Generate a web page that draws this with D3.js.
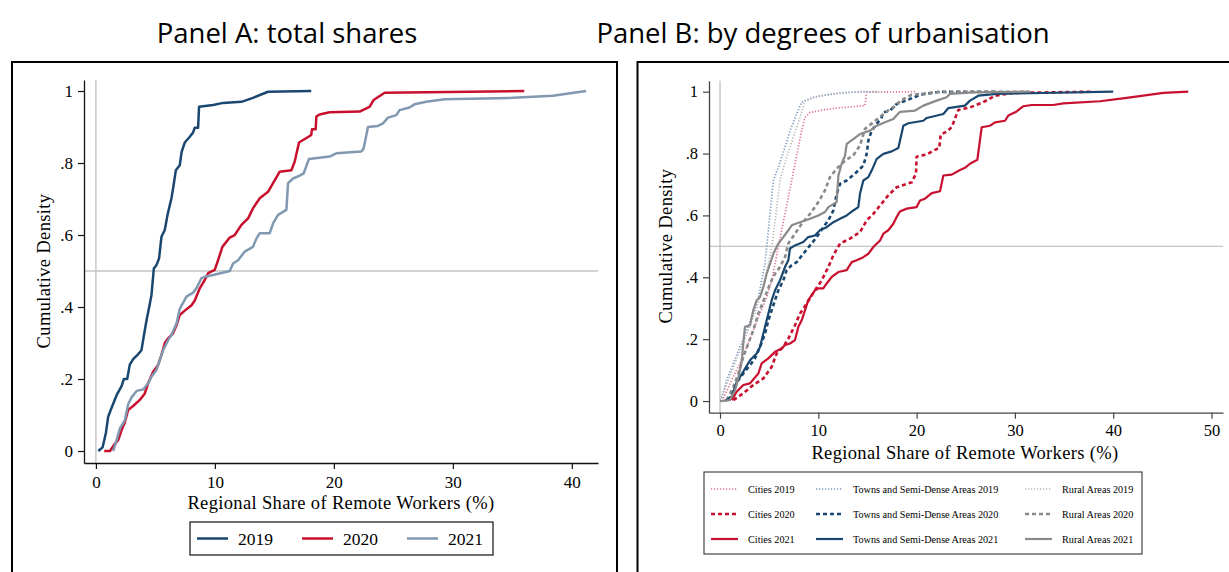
<!DOCTYPE html>
<html>
<head>
<meta charset="utf-8">
<script src="https://cdn.jsdelivr.net/npm/d3@7"></script>
<style>
  html, body { margin: 0; padding: 0; background: #fff; }
  svg { display: block; }
</style>
</head>
<body>
<svg id="chart" width="1229" height="572"></svg>
<script>
// ---------- Data: empirical cumulative distributions [share %, cumulative density] ----------
const panelTitles = ["Panel A: total shares", "Panel B: by degrees of urbanisation"];
const yTickValues = [0, 0.2, 0.4, 0.6, 0.8, 1];
const yTickLabels = ["0", ".2", ".4", ".6", ".8", "1"];
const xTicksA = [0, 10, 20, 30, 40];
const xTicksB = [0, 10, 20, 30, 40, 50];
const xTitle = "Regional Share of Remote Workers (%)";
const yTitle = "Cumulative Density";

// Panel A: total shares by year
const total2019 = [[0.2,0],[0.56,0.01],[0.84,0.05],[1.03,0.095],[1.32,0.12],[1.74,0.155],[2.16,0.18],[2.35,0.2],[2.63,0.2],[2.85,0.24],[3.13,0.255],[3.5,0.267],[3.83,0.28],[4.03,0.32],[4.26,0.364],[4.48,0.4],[4.67,0.433],[4.87,0.507],[5.1,0.517],[5.31,0.535],[5.51,0.595],[5.79,0.614],[6.02,0.656],[6.35,0.702],[6.49,0.73],[6.72,0.78],[7.05,0.794],[7.2,0.83],[7.47,0.857],[7.89,0.873],[8.17,0.885],[8.31,0.898],[8.59,0.898],[8.67,0.956],[9.85,0.961],[10.69,0.967],[12.23,0.97],[13.2,0.981],[14.47,0.998],[18.1,1]];
const total2020 = [[0.7,0],[1.18,0],[1.6,0.02],[1.87,0.03],[2.16,0.058],[2.44,0.08],[2.71,0.114],[3.13,0.125],[3.69,0.142],[4.11,0.16],[4.39,0.188],[4.81,0.22],[5.23,0.239],[5.51,0.267],[5.79,0.3],[6.07,0.313],[6.49,0.327],[6.78,0.35],[7.05,0.378],[7.47,0.39],[8.04,0.405],[8.31,0.418],[8.73,0.452],[9.15,0.475],[9.43,0.494],[9.99,0.503],[10.27,0.53],[10.63,0.567],[11.25,0.593],[11.67,0.6],[12.23,0.628],[12.79,0.646],[13.2,0.674],[13.77,0.702],[14.47,0.72],[14.89,0.744],[15.45,0.776],[16.43,0.78],[16.71,0.804],[17.07,0.857],[17.97,0.875],[18.1,0.878],[18.16,0.894],[18.47,0.894],[18.53,0.929],[18.8,0.935],[19.65,0.941],[22.17,0.943],[23.0,0.956],[23.34,0.975],[24.27,0.995],[36.0,1]];
const total2021 = [[1.45,0],[1.74,0.03],[2.02,0.063],[2.44,0.086],[2.71,0.13],[3.0,0.149],[3.42,0.167],[3.97,0.171],[4.39,0.188],[4.67,0.206],[5.09,0.225],[5.37,0.253],[5.65,0.28],[6.07,0.308],[6.35,0.322],[6.78,0.355],[7.05,0.395],[7.61,0.429],[8.17,0.44],[8.45,0.452],[8.87,0.48],[9.15,0.484],[9.85,0.489],[11.25,0.5],[11.53,0.521],[11.95,0.53],[12.51,0.554],[13.2,0.567],[13.49,0.59],[13.77,0.605],[14.61,0.605],[14.89,0.632],[15.31,0.656],[16.01,0.67],[16.15,0.744],[16.57,0.757],[17.13,0.765],[17.46,0.771],[17.9,0.811],[19.65,0.818],[20.2,0.827],[22.31,0.832],[22.5,0.84],[22.87,0.9],[23.7,0.903],[24.13,0.91],[24.55,0.926],[25.25,0.933],[25.52,0.947],[26.36,0.954],[26.78,0.963],[27.76,0.97],[29.3,0.977],[35.04,0.981],[38.4,0.987],[41.2,1]];

// Panel B: by degree of urbanisation and year
const cities2019 = [[0.34,0.009],[1.19,0.068],[2.03,0.122],[2.72,0.175],[3.39,0.229],[4.07,0.283],[4.75,0.336],[5.26,0.39],[5.6,0.444],[5.93,0.498],[6.27,0.552],[6.61,0.605],[6.95,0.659],[7.29,0.713],[7.63,0.767],[7.97,0.82],[8.31,0.874],[8.65,0.917],[9.16,0.933],[10.5,0.941],[12.54,0.949],[14.75,0.955],[14.92,0.998],[20.0,1]];
const towns2019 = [[0.17,0.009],[0.68,0.068],[1.36,0.122],[2.03,0.175],[2.72,0.229],[3.39,0.283],[3.9,0.336],[4.24,0.39],[4.58,0.444],[4.75,0.498],[5.09,0.605],[5.43,0.713],[5.93,0.756],[6.61,0.82],[7.12,0.874],[7.8,0.928],[8.31,0.966],[9.49,0.982],[11.53,0.993],[14.24,1],[16.0,1]];
const rural2019 = [[0,0.003],[0.85,0.068],[1.53,0.122],[2.2,0.175],[2.88,0.229],[3.56,0.283],[4.07,0.336],[4.58,0.39],[4.92,0.444],[5.26,0.498],[5.7,0.605],[6.1,0.713],[6.78,0.788],[7.46,0.853],[8.14,0.917],[8.65,0.971],[10.17,0.987],[12.54,0.998],[17.0,1]];
const cities2020 = [[1.36,0.003],[2.37,0.025],[3.39,0.052],[4.41,0.073],[5.26,0.111],[5.77,0.154],[6.44,0.175],[6.95,0.202],[7.63,0.245],[8.14,0.283],[8.82,0.315],[9.66,0.358],[10.34,0.39],[11.02,0.433],[11.53,0.471],[12.21,0.509],[13.22,0.525],[14.24,0.546],[14.92,0.584],[15.6,0.605],[16.28,0.632],[17.12,0.665],[17.97,0.691],[19.5,0.707],[19.94,0.735],[20.0,0.79],[21.03,0.797],[21.87,0.812],[22.31,0.818],[22.45,0.861],[23.06,0.871],[23.57,0.885],[24.24,0.941],[25.43,0.949],[26.78,0.966],[27.98,0.987],[29.84,0.996],[38.0,1]];
const towns2020 = [[0.85,0.003],[1.36,0.03],[1.87,0.068],[2.37,0.089],[3.05,0.116],[3.56,0.138],[4.07,0.175],[4.58,0.218],[4.92,0.261],[5.26,0.294],[5.6,0.326],[5.93,0.358],[6.44,0.39],[6.78,0.423],[7.29,0.439],[7.8,0.449],[8.47,0.476],[9.16,0.503],[9.84,0.53],[10.5,0.562],[11.02,0.584],[11.53,0.616],[11.87,0.67],[12.21,0.702],[12.89,0.713],[13.73,0.735],[14.58,0.761],[14.92,0.799],[15.09,0.842],[15.43,0.874],[15.94,0.896],[16.45,0.917],[16.62,0.933],[17.29,0.939],[17.97,0.96],[19.3,0.976],[20.35,0.99],[22.38,1],[28.0,1]];
const rural2020 = [[0.68,0.003],[1.36,0.046],[1.87,0.089],[2.37,0.143],[2.88,0.186],[3.39,0.229],[3.9,0.283],[4.58,0.336],[5.09,0.38],[5.6,0.412],[6.1,0.433],[6.61,0.465],[6.95,0.509],[7.63,0.541],[8.31,0.573],[9.16,0.605],[10.0,0.643],[10.68,0.681],[11.19,0.724],[11.87,0.751],[12.72,0.777],[13.56,0.794],[14.24,0.826],[14.75,0.88],[15.6,0.901],[16.45,0.923],[17.29,0.944],[17.97,0.955],[18.3,0.97],[19.5,0.99],[22.0,0.998],[31.5,1]];
const cities2021 = [[1.19,0.003],[1.7,0.03],[2.37,0.052],[3.05,0.057],[3.9,0.089],[4.24,0.122],[4.92,0.138],[5.6,0.159],[6.27,0.17],[6.61,0.181],[7.12,0.186],[7.63,0.197],[7.97,0.24],[8.31,0.261],[8.65,0.294],[8.98,0.326],[9.66,0.358],[10.0,0.364],[10.5,0.364],[10.85,0.38],[11.36,0.401],[12.03,0.417],[12.89,0.423],[13.4,0.449],[13.9,0.455],[14.58,0.465],[15.09,0.476],[15.6,0.498],[16.28,0.519],[16.62,0.541],[17.12,0.552],[17.63,0.573],[17.97,0.595],[18.31,0.613],[18.99,0.622],[20.0,0.627],[20.35,0.648],[20.85,0.654],[21.54,0.672],[22.38,0.678],[22.72,0.729],[23.57,0.732],[24.42,0.747],[24.92,0.754],[25.43,0.767],[26.18,0.78],[26.62,0.885],[27.47,0.89],[27.98,0.901],[29.0,0.906],[29.33,0.923],[30.18,0.936],[30.86,0.953],[31.71,0.957],[33.91,0.957],[34.93,0.962],[38.66,0.969],[41.37,0.98],[45.1,0.996],[47.64,1]];
const towns2021 = [[0.5,0],[1.19,0.014],[1.7,0.062],[2.37,0.095],[3.05,0.132],[3.73,0.154],[4.07,0.175],[4.58,0.24],[4.92,0.283],[5.26,0.326],[5.6,0.358],[6.1,0.39],[6.61,0.433],[6.95,0.455],[7.12,0.493],[7.63,0.503],[8.47,0.514],[8.98,0.53],[9.66,0.535],[10.17,0.552],[10.85,0.562],[11.53,0.578],[12.21,0.589],[12.89,0.6],[13.56,0.616],[14.07,0.627],[14.24,0.67],[14.58,0.713],[15.09,0.724],[15.43,0.745],[15.94,0.783],[16.62,0.799],[17.47,0.807],[18.14,0.818],[18.65,0.89],[19.16,0.898],[20.68,0.906],[21.03,0.915],[22.72,0.928],[23.23,0.947],[24.92,0.955],[25.43,0.971],[26.28,0.987],[28.15,0.993],[40.0,1]];
const rural2021 = [[0,0],[1.0,0.003],[1.53,0.035],[1.87,0.078],[2.2,0.127],[2.37,0.186],[2.54,0.24],[3.05,0.245],[3.39,0.294],[3.73,0.326],[4.07,0.336],[4.41,0.369],[4.75,0.412],[5.09,0.444],[5.43,0.476],[5.93,0.509],[6.44,0.53],[6.95,0.552],[7.29,0.568],[8.14,0.578],[9.16,0.589],[10.0,0.6],[10.68,0.611],[11.02,0.627],[11.87,0.643],[12.04,0.729],[12.38,0.767],[12.72,0.794],[12.89,0.831],[13.56,0.847],[14.24,0.863],[15.26,0.874],[15.94,0.89],[16.79,0.901],[17.63,0.912],[18.31,0.935],[19.84,0.939],[20.68,0.955],[22.04,0.971],[23.06,0.982],[23.4,0.993],[25.77,0.998],[31.5,1]];

const seriesA = [
  { name: "2019", data: total2019, color: "#1a476f" },
  { name: "2020", data: total2020, color: "#c8102e" },
  { name: "2021", data: total2021, color: "#8198b1" }
];

const styles = {
  dot:   { width: 1.7, dash: "1.2,1.8" },
  dash:  { width: 2.6, dash: "4,3" },
  solid: { width: 2.2, dash: null }
};

const seriesB = [
  { name: "Cities 2019", data: cities2019, color: "#e0718c", style: "dot" },
  { name: "Towns and Semi-Dense Areas 2019", data: towns2019, color: "#7896c2", style: "dot" },
  { name: "Rural Areas 2019", data: rural2019, color: "#b8b8b8", style: "dot" },
  { name: "Cities 2020", data: cities2020, color: "#c8102e", style: "dash" },
  { name: "Towns and Semi-Dense Areas 2020", data: towns2020, color: "#1a476f", style: "dash" },
  { name: "Rural Areas 2020", data: rural2020, color: "#8a8a8a", style: "dash" },
  { name: "Cities 2021", data: cities2021, color: "#c8102e", style: "solid" },
  { name: "Towns and Semi-Dense Areas 2021", data: towns2021, color: "#1a476f", style: "solid" },
  { name: "Rural Areas 2021", data: rural2021, color: "#8a8a8a", style: "solid" }
];

// ---------- Drawing ----------
const svg = d3.select("#chart");
const serif = '"Liberation Serif", "Times New Roman", serif';
const sans = '"Open Sans", sans-serif';

// Panel titles
svg.append("text").attr("x", 287).attr("y", 43).attr("text-anchor", "middle")
  .style("font-family", sans).style("font-size", "27.5px").attr("fill", "#000")
  .text(panelTitles[0]);
svg.append("text").attr("x", 823).attr("y", 43).attr("text-anchor", "middle")
  .style("font-family", sans).style("font-size", "27.5px").attr("fill", "#000")
  .text(panelTitles[1]);

// Panel frames
svg.append("rect").attr("x", 12).attr("y", 62).attr("width", 605).attr("height", 520)
  .attr("fill", "none").attr("stroke", "#000").attr("stroke-width", 2);
svg.append("rect").attr("x", 637.5).attr("y", 62).attr("width", 600).attr("height", 520)
  .attr("fill", "none").attr("stroke", "#000").attr("stroke-width", 2);

function drawPanel(cfg) {
  const g = svg.append("g");
  const x = d3.scaleLinear().domain(cfg.xDomain).range(cfg.xRange);
  const y = d3.scaleLinear().domain(cfg.yDomain).range(cfg.yRange);

  // reference lines at x = 0 and y = 0.5
  g.append("line").attr("x1", x(0)).attr("x2", x(0))
    .attr("y1", cfg.yRange[0]).attr("y2", cfg.yRange[1])
    .attr("stroke", "#c4c4c4").attr("stroke-width", 1.4);
  g.append("line").attr("x1", cfg.xRange[0]).attr("x2", cfg.xRange[1])
    .attr("y1", y(0.5)).attr("y2", y(0.5))
    .attr("stroke", "#c4c4c4").attr("stroke-width", 1.4);

  // axes
  const yAxis = d3.axisLeft(y).tickValues(yTickValues)
    .tickFormat((d, i) => yTickLabels[i]).tickSizeOuter(0).tickSizeInner(6).tickPadding(cfg.yPad);
  const xAxis = d3.axisBottom(x).tickValues(cfg.xTicks)
    .tickFormat(d3.format("d")).tickSizeOuter(0).tickSizeInner(6).tickPadding(cfg.xPad);

  const ga = g.append("g").attr("transform", `translate(${cfg.xRange[0]},0)`).call(yAxis);
  const gb = g.append("g").attr("transform", `translate(0,${cfg.yRange[0]})`).call(xAxis);
  [ga, gb].forEach(a => {
    a.select(".domain").attr("stroke", cfg.axisColor).attr("stroke-width", 1.3);
    a.selectAll(".tick line").attr("stroke", cfg.axisColor).attr("stroke-width", 1.2);
    a.selectAll(".tick text").style("font-family", serif).style("font-size", cfg.tickFont + "px").attr("fill", "#000");
  });

  // axis titles
  g.append("text").attr("x", cfg.xTitlePos[0]).attr("y", cfg.xTitlePos[1]).attr("text-anchor", "middle")
    .style("font-family", serif).style("font-size", cfg.titleFont + "px")
    .style("letter-spacing", "0.35px").text(xTitle);
  g.append("text").attr("transform", `translate(${cfg.yTitlePos[0]},${cfg.yTitlePos[1]}) rotate(-90)`)
    .attr("text-anchor", "middle")
    .style("font-family", serif).style("font-size", cfg.titleFont + "px")
    .style("letter-spacing", "0.35px").text(yTitle);

  const line = d3.line().x(d => x(d[0])).y(d => y(d[1]));
  return { g, x, y, line };
}

// Panel A
const A = drawPanel({
  xDomain: [-1, 42.2], xRange: [84, 598],
  yDomain: [-0.0333, 1.0306], yRange: [463, 80],
  xTicks: xTicksA, xPad: 7, yPad: 5, axisColor: "#111",
  tickFont: 17, titleFont: 18.5,
  xTitlePos: [341, 509], yTitlePos: [50, 271]
});
A.g.selectAll("path.seriesA").data(seriesA).join("path").attr("class", "seriesA")
  .attr("d", d => A.line(d.data)).attr("fill", "none")
  .attr("stroke", d => d.color).attr("stroke-width", 2.5)
  .attr("stroke-linejoin", "round");

// Panel A legend
const legA = svg.append("g");
legA.append("rect").attr("x", 190).attr("y", 522).attr("width", 303).attr("height", 33)
  .attr("fill", "#fff").attr("stroke", "#111").attr("stroke-width", 1.2);
const legAx = [197, 302, 407];
seriesA.forEach((s, i) => {
  legA.append("line").attr("x1", legAx[i]).attr("x2", legAx[i] + 31)
    .attr("y1", 538.5).attr("y2", 538.5).attr("stroke", s.color).attr("stroke-width", 2.5);
  legA.append("text").attr("x", legAx[i] + 41).attr("y", 545)
    .style("font-family", serif).style("font-size", "17.5px").text(s.name);
});

// Panel B
const B = drawPanel({
  xDomain: [-1.12, 51.17], xRange: [709, 1223],
  yDomain: [-0.0377, 1.0355], yRange: [412.7, 80.7],
  xTicks: xTicksB, xPad: 6, yPad: 5, axisColor: "#444",
  tickFont: 16.5, titleFont: 18.5,
  xTitlePos: [965, 459], yTitlePos: [671.5, 246]
});
B.g.selectAll("path.seriesB").data(seriesB).join("path").attr("class", "seriesB")
  .attr("d", d => B.line(d.data)).attr("fill", "none")
  .attr("stroke", d => d.color)
  .attr("stroke-width", d => styles[d.style].width)
  .attr("stroke-dasharray", d => styles[d.style].dash)
  .attr("stroke-linejoin", "round");

// Panel B legend (3 x 3 grid: rows = year, columns = area type)
const legB = svg.append("g");
legB.append("rect").attr("x", 704).attr("y", 472).attr("width", 438).attr("height", 82)
  .attr("fill", "#fff").attr("stroke", "#333").attr("stroke-width", 1.1);
const colX = [711, 816, 1025];
const rowY = [489, 514, 539];
seriesB.forEach((s, i) => {
  const col = i % 3, row = Math.floor(i / 3);
  const st = styles[s.style];
  legB.append("line").attr("x1", colX[col]).attr("x2", colX[col] + 27)
    .attr("y1", rowY[row]).attr("y2", rowY[row])
    .attr("stroke", s.color).attr("stroke-width", st.width)
    .attr("stroke-dasharray", st.dash);
  legB.append("text").attr("x", colX[col] + 37).attr("y", rowY[row] + 3.8)
    .style("font-family", serif).style("font-size", "10.2px").text(s.name);
});
</script>
</body>
</html>
